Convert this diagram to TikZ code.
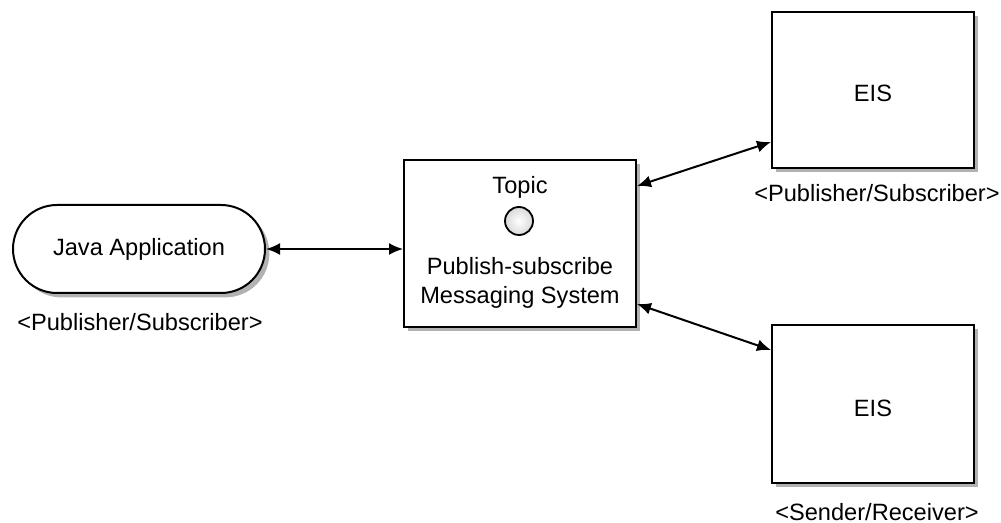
\documentclass[tikz,border=0pt]{standalone}
\usepackage{fontspec}
\setmainfont{Liberation Sans}
\usetikzlibrary{arrows.meta,shadows}
\begin{document}
\begin{tikzpicture}[x=0.5pt,y=-0.5pt,
  font=\fontsize{11.8}{14.5}\selectfont,
  shad/.style={drop shadow={shadow xshift=2.2pt,shadow yshift=-2.2pt,opacity=1,fill=black!30}},
  sysbox/.style={draw=black,line width=1pt,fill=white,inner sep=0pt,shad},
  txt/.style={inner sep=0pt,align=center},
  conn/.style={line width=1pt,{Latex[length=7pt,width=6pt]}-{Latex[length=7pt,width=6pt]}}
]
\useasboundingbox (0,0) rectangle (1001,523);

\node[sysbox,rounded corners=22pt,minimum width=126pt,minimum height=44pt] (java) at (139,249) {};
\node[txt] (javat) at (139,249) {Java Application};
\node[txt] (javal) at (140,322) {<Publisher/Subscriber>};

\node[sysbox,minimum width=116pt,minimum height=83.5pt] (sys) at (520,243.5) {};
\node[txt] (topic) at (520,187) {Topic};
\node[circle,draw=black,line width=0.9pt,inner color=white,outer color=black!15,minimum size=14pt,inner sep=0pt] (tc) at (519,221) {};
\node[txt] (syst) at (520,283) {Publish-subscribe\\Messaging System};

\node[sysbox,minimum width=101pt,minimum height=78pt] (eis1) at (873,90) {};
\node[txt] (eis1t) at (873,93) {EIS};
\node[txt] (eis1l) at (877,193) {<Publisher/Subscriber>};

\node[sysbox,minimum width=101pt,minimum height=79pt] (eis2) at (873,404) {};
\node[txt] (eis2t) at (873,408) {EIS};
\node[txt] (eis2l) at (877,512) {<Sender/Receiver>};

\draw[conn] (java.east) -- (java.east -| sys.west);
\draw[conn] ([yshift=-13.5pt]sys.north east) -- ([yshift=13.5pt]eis1.south west);
\draw[conn] ([yshift=12pt]sys.south east) -- ([yshift=-13pt]eis2.north west);
\end{tikzpicture}
\end{document}
